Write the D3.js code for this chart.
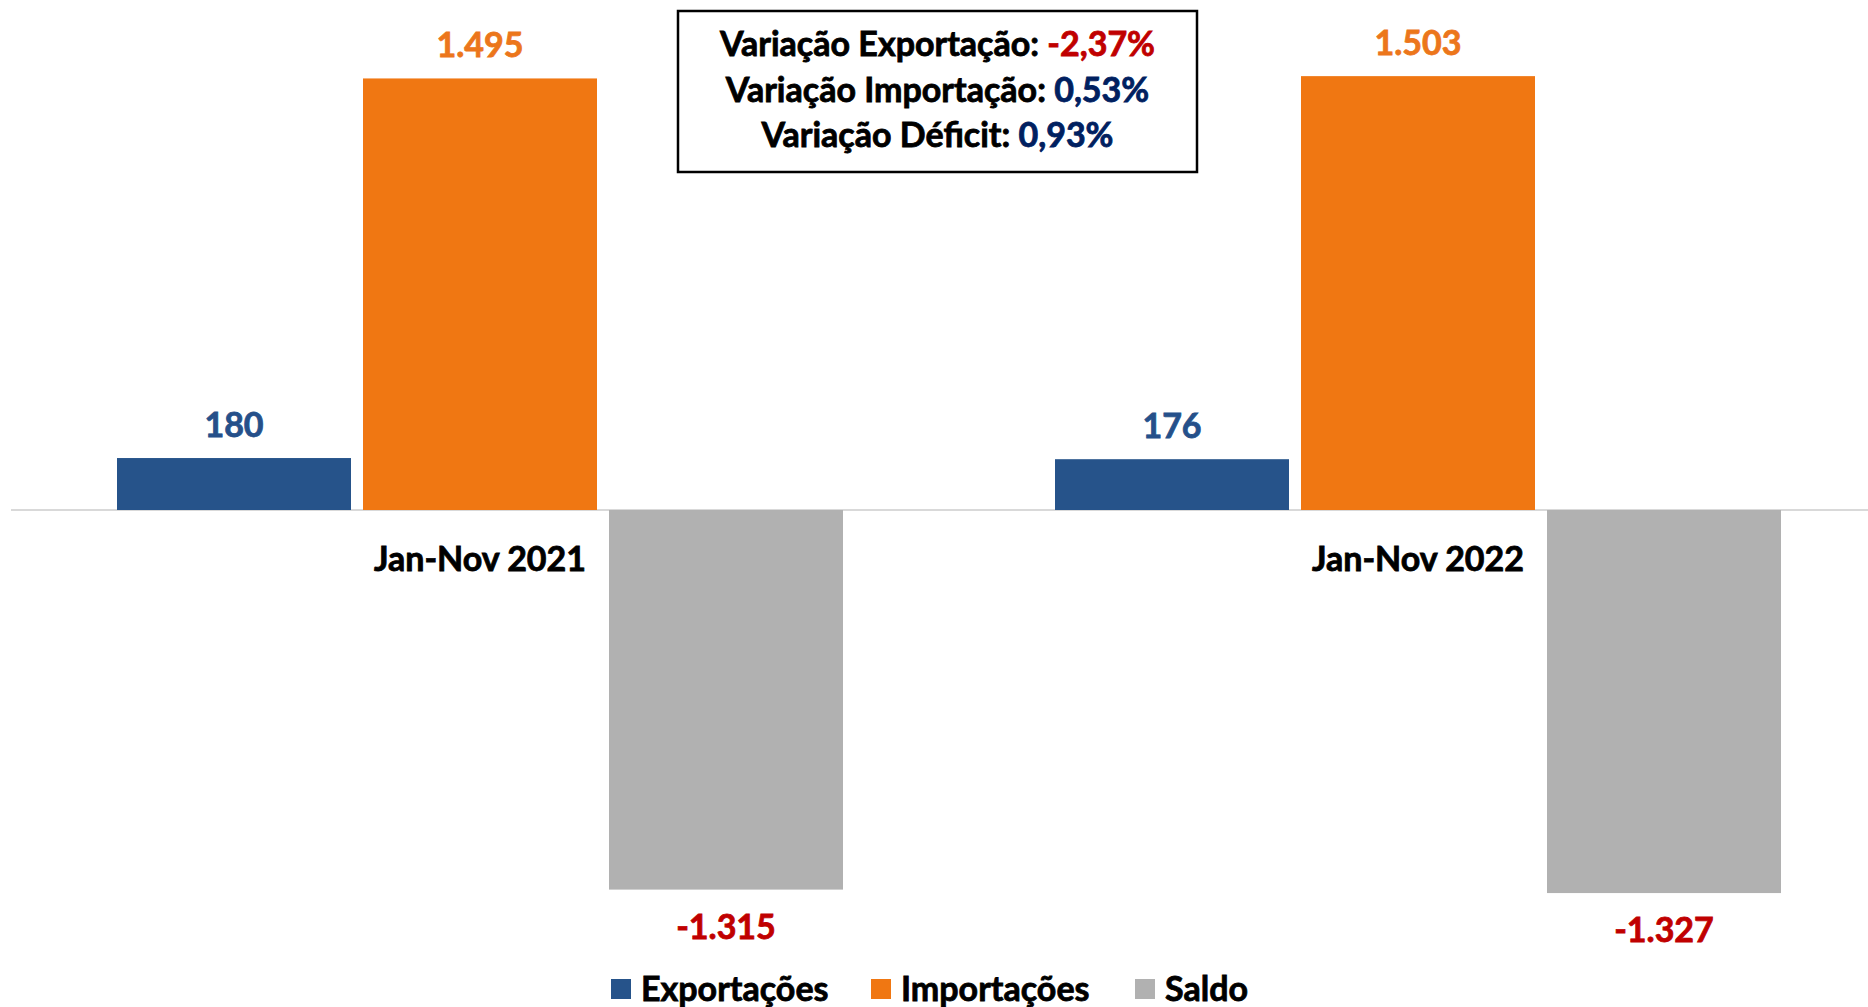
<!DOCTYPE html>
<html>
<head>
<meta charset="utf-8">
<script src="https://cdn.jsdelivr.net/npm/d3@7"></script>
<style>
  body { margin: 0; background: #fff; }
  svg text { font-family: Lato, "Open Sans", sans-serif; font-weight: bold; stroke-width: 0.8px; paint-order: stroke; }
</style>
</head>
<body>
<div id="chart"></div>
<script>
// chart data
var categories = ["Jan-Nov 2021", "Jan-Nov 2022"];
var seriesNames = ["Exportações", "Importações", "Saldo"];
var exportacoes = [180, 176];
var importacoes = [1495, 1503];
var saldo = [-1315, -1327];
var valueLabels = [["180", "1.495", "-1.315"], ["176", "1.503", "-1.327"]];

// annotation box lines: [label, value, value colour key]
var notes = [
    ["Variação Exportação: ", "-2,37%", "neg"],
    ["Variação Importação: ", "0,53%", "pos"],
    ["Variação Déficit: ", "0,93%", "pos"]
];

var width = 1868, height = 1007;
var fs = 34;
var barColor = {"Exportações": "#26538A", "Importações": "#F07712", "Saldo": "#B1B1B1"};
var labelColor = {"Exportações": "#25508A", "Importações": "#EC761B", "Saldo": "#C00000"};

var rows = categories.map(function (c, i) {
    return {cat: c, values: [exportacoes[i], importacoes[i], saldo[i]], labels: valueLabels[i]};
});

var svg = d3.select("#chart").append("svg")
    .attr("width", width)
    .attr("height", height);

// scales
var x0 = d3.scaleBand().domain(categories).range([11, 1887]);
var x1 = d3.scaleBand().domain(seriesNames).range([106, 832]).paddingInner(0.0488);
var y = d3.scaleLinear().domain([-1500, 1500]).range([943, 77]);

// zero line
svg.append("line")
    .attr("x1", 11).attr("x2", width)
    .attr("y1", y(0)).attr("y2", y(0))
    .attr("stroke", "#D9D9D9")
    .attr("stroke-width", 2);

var groups = svg.selectAll(".grp")
    .data(rows)
    .enter().append("g")
        .attr("class", "grp")
        .attr("transform", function (d) { return "translate(" + x0(d.cat) + ",0)"; });

var cells = groups.selectAll(".cell")
    .data(function (d) {
        return seriesNames.map(function (s, k) { return {name: s, v: d.values[k], label: d.labels[k]}; });
    })
    .enter().append("g");

cells.append("rect")
    .attr("x", function (d) { return x1(d.name); })
    .attr("width", x1.bandwidth())
    .attr("y", function (d) { return y(Math.max(0, d.v)); })
    .attr("height", function (d) { return Math.abs(y(d.v) - y(0)); })
    .attr("fill", function (d) { return barColor[d.name]; });

cells.append("text")
    .attr("x", function (d) { return x1(d.name) + x1.bandwidth() / 2; })
    .attr("y", function (d) { return d.v >= 0 ? y(d.v) - 21 : y(d.v) + 49; })
    .attr("text-anchor", "middle")
    .attr("font-size", fs)
    .attr("fill", function (d) { return labelColor[d.name]; })
    .attr("stroke", function (d) { return labelColor[d.name]; })
    .text(function (d) { return d.label; });

// category labels under the zero line
groups.append("text")
    .attr("x", x0.bandwidth() / 2)
    .attr("y", y(0) + 61)
    .attr("text-anchor", "middle")
    .attr("font-size", fs)
    .attr("fill", "#000")
    .attr("stroke", "#000")
    .text(function (d) { return d.cat; });

// annotation box
var box = svg.append("g");
box.append("rect")
    .attr("x", 678).attr("y", 11)
    .attr("width", 519).attr("height", 161)
    .attr("fill", "#fff")
    .attr("stroke", "#000")
    .attr("stroke-width", 2.5);

var noteText = box.selectAll(".note")
    .data(notes)
    .enter().append("text")
        .attr("x", 937.5)
        .attr("y", function (d, i) { return 56 + i * 45.5; })
        .attr("text-anchor", "middle")
        .attr("font-size", fs)
        .attr("fill", "#000")
        .attr("stroke", "#000");
noteText.append("tspan").text(function (d) { return d[0]; });
noteText.append("tspan")
    .attr("fill", function (d) { return d[2] === "neg" ? "#C00000" : "#002060"; })
    .attr("stroke", function (d) { return d[2] === "neg" ? "#C00000" : "#002060"; })
    .text(function (d) { return d[1]; });

// legend
var legendX = [611, 871, 1135];
var legend = svg.selectAll(".leg")
    .data(seriesNames)
    .enter().append("g")
        .attr("transform", function (d, i) { return "translate(" + legendX[i] + ",979)"; });
legend.append("rect")
    .attr("width", 20).attr("height", 20)
    .attr("fill", function (d) { return barColor[d]; });
legend.append("text")
    .attr("x", 30).attr("y", 22)
    .attr("font-size", fs)
    .attr("fill", "#000")
    .attr("stroke", "#000")
    .text(function (d) { return d; });
</script>
</body>
</html>
